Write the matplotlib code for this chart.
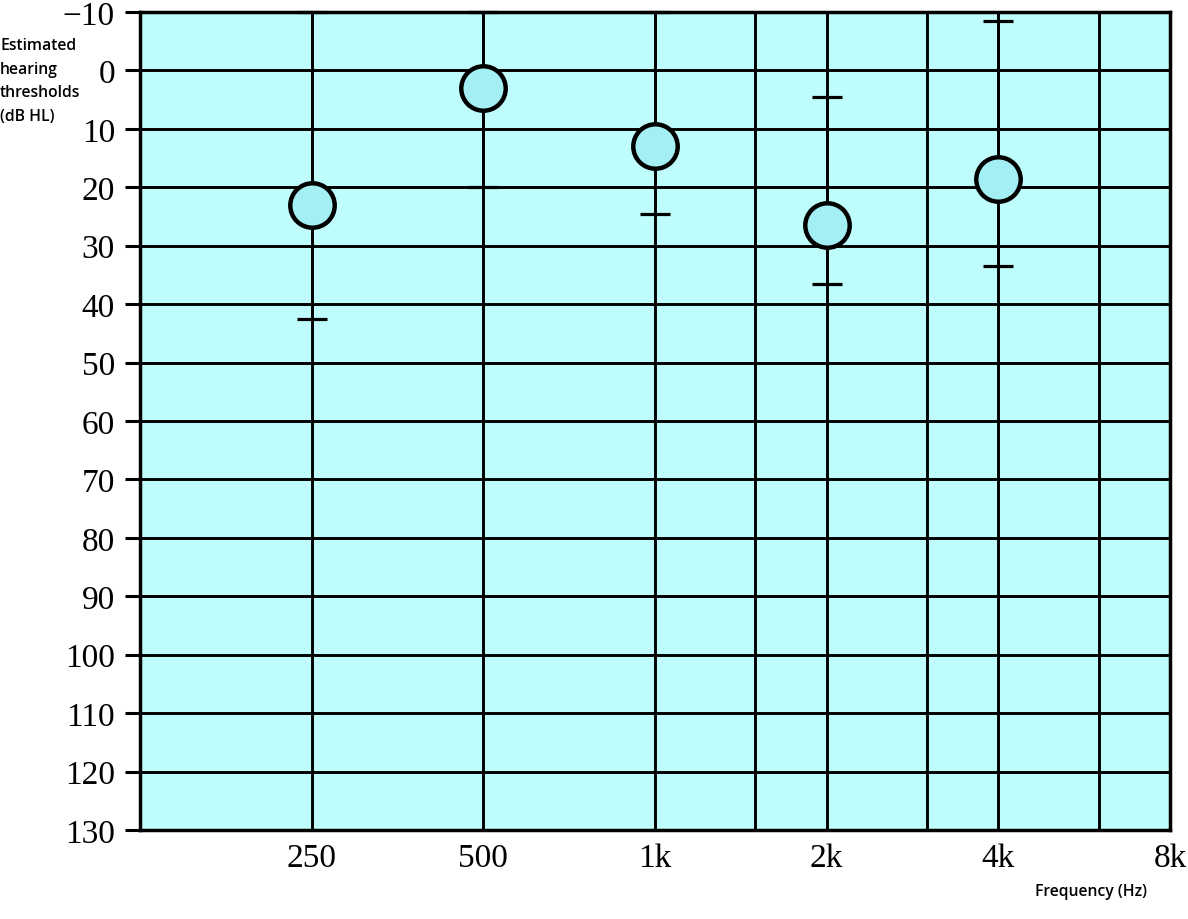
import matplotlib
matplotlib.use('Agg')
import matplotlib.pyplot as plt
from matplotlib.ticker import FixedLocator, FixedFormatter, NullFormatter

# audiogram values
freqs = [250, 500, 1000, 2000, 4000]
thresholds = [23, 3, 13, 26.5, 18.5]
best = [-10, -10, -10, 4.5, -8.5]      # upper end of error bar (lower dB)
worst = [42.5, 20, 24.5, 36.5, 33.5]   # lower end of error bar

freq_ticks = [250, 500, 1000, 2000, 4000, 8000]
freq_labels = ['250', '500', '1k', '2k', '4k', '8k']
minor_freqs = [1500, 3000, 6000]
db_ticks = list(range(-10, 131, 10))

bg = '#bffcfc'
dot = '#a3eff4'

fig = plt.figure(figsize=(11.88, 9.2), dpi=100)
ax = fig.add_axes([0.1178, 0.0967, 0.9848 - 0.1178, 0.9859 - 0.0967])
ax.set_facecolor(bg)

ax.set_xscale('log', base=2)
ax.set_xlim(125, 8000)
ax.set_ylim(130, -10)

ax.xaxis.set_major_locator(FixedLocator(freq_ticks))
ax.xaxis.set_major_formatter(FixedFormatter(freq_labels))
ax.xaxis.set_minor_locator(FixedLocator(minor_freqs))
ax.xaxis.set_minor_formatter(NullFormatter())
ax.set_yticks(db_ticks)
ax.set_yticklabels([('\u221210' if v < 0 else str(v)) for v in db_ticks])

ax.grid(True, which='both', color='black', linewidth=2.1, zorder=1)
ax.set_axisbelow(True)

for s in ax.spines.values():
    s.set_linewidth(2.5)

ax.tick_params(axis='x', which='both', length=0, pad=9)
ax.tick_params(axis='y', length=11, width=2.2, pad=7, direction='out')
for lbl in ax.get_xticklabels() + ax.get_yticklabels():
    lbl.set_fontfamily('Liberation Serif')
    lbl.set_fontsize(24)

lower = [t - b for t, b in zip(thresholds, best)]
upper = [w - t for t, w in zip(thresholds, worst)]
eb = ax.errorbar(freqs, thresholds, yerr=[lower, upper], fmt='none',
                 ecolor='black', elinewidth=2.1, capsize=11, capthick=2.3, zorder=3)
for art in eb.get_children():
    art.set_clip_on(False)

ax.plot(freqs, thresholds, linestyle='none', marker='o', markersize=32,
        markerfacecolor=dot, markeredgecolor='black', markeredgewidth=3.2, zorder=4)

fig.text(0.0, 0.959, 'Estimated\nhearing\nthresholds\n(dB HL)', fontsize=11.3,
         family='Open Sans', fontweight='semibold', va='top', ha='left', linespacing=1.65)
fig.text(0.871, 0.030, 'Frequency (Hz)', fontsize=11.3, family='Open Sans',
         fontweight='semibold', va='center', ha='left')

fig.savefig('out.png', dpi=100, facecolor='white')
